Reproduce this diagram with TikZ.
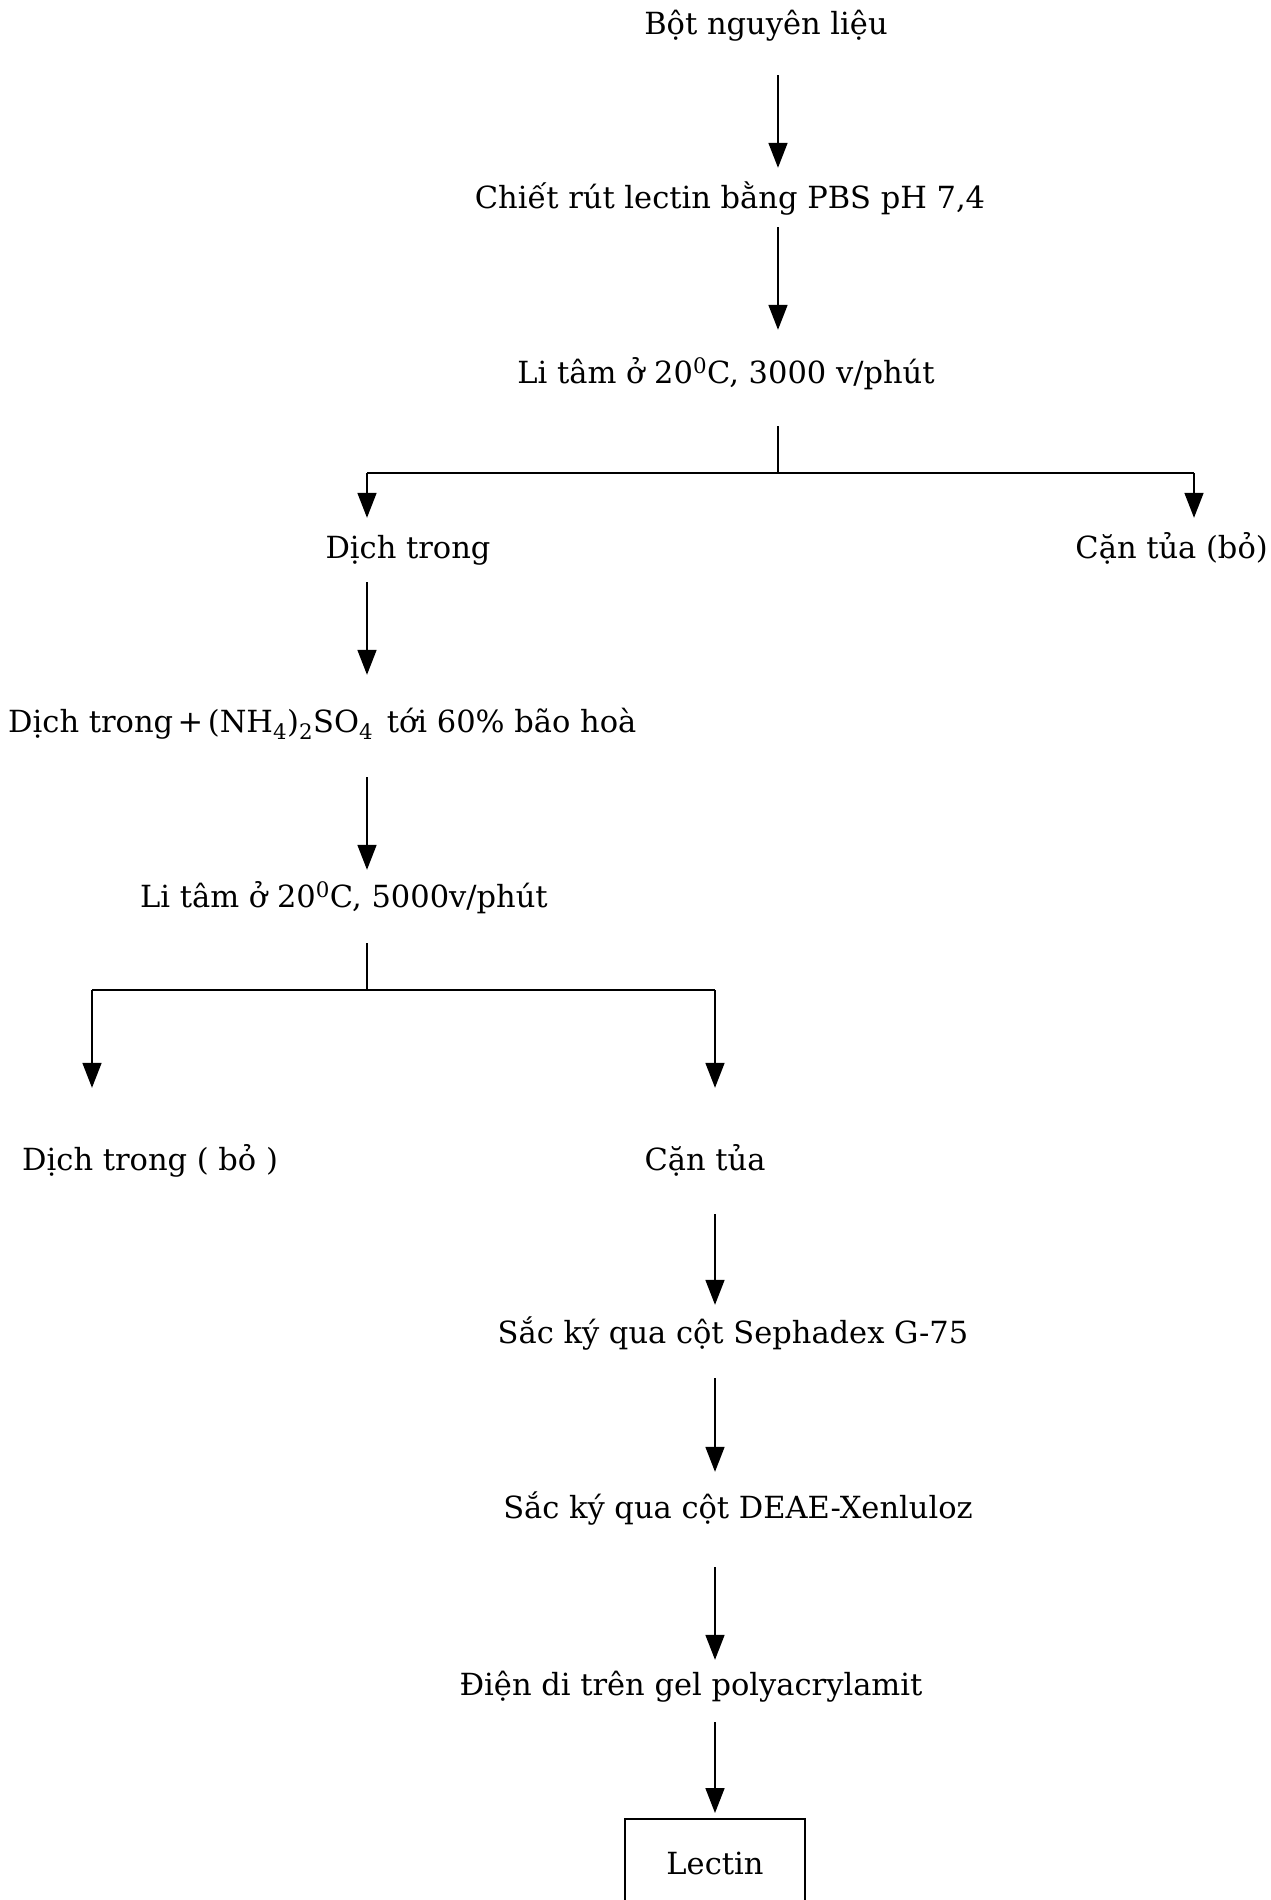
\documentclass[tikz,border=0pt]{standalone}
\usepackage{fontspec}
\setmainfont{DejaVu Serif}
\usetikzlibrary{arrows.meta}
\begin{document}
\begin{tikzpicture}[x=1pt,y=-1pt,
  txt/.style={inner sep=0pt, anchor=base, text height=26pt, text depth=8pt, font=\fontsize{30.5}{36}\selectfont},
  ln/.style={line width=1.7pt},
  bar/.style={line width=2.8pt},
  arr/.style={line width=1.7pt, -{Triangle[length=25pt,width=19pt]}},
  boxed/.style={draw, line width=1.7pt, inner sep=0pt, minimum width=180pt, minimum height=90pt, font=\fontsize{30.5}{36}\selectfont}]
\useasboundingbox (0,0) rectangle (1271,1900);
% columns and junctions
\coordinate (cA) at (778,0);
\coordinate (cB) at (367,0);
\coordinate (cC) at (715,0);
\coordinate (j1) at (778,473);
\coordinate (j1l) at (367,473);
\coordinate (j1r) at (1194,473);
\coordinate (j2) at (367,990);
\coordinate (j2l) at (92,990);
\coordinate (j2r) at (715,990);
% nodes
\node[txt] (bot) at (766,35) {Bột nguyên liệu};
\node[txt] (chiet) at (730,208) {Chiết rút lectin bằng PBS pH 7,4};
\node[txt] (li1) at (726,383) {Li tâm ở 20\textsuperscript{0}C, 3000 v/phút};
\node[txt] (dt1) at (408,558) {Dịch trong};
\node[txt, anchor=base east] (ct1) at (1268,558) {Cặn tủa (bỏ)};
\node[txt, anchor=base west] (dtn) at (8,732) {Dịch trong\hspace{0.15em}+\hspace{0.15em}(NH\textsubscript{4})\textsubscript{2}SO\textsubscript{4}\hspace{0.45em}tới 60\% bão hoà};
\node[txt] (li2) at (344,907) {Li tâm ở 20\textsuperscript{0}C, 5000v/phút};
\node[txt, anchor=base west] (dt2) at (22,1170) {Dịch trong ( bỏ )};
\node[txt] (ct2) at (705,1170) {Cặn tủa};
\node[txt] (g75) at (733,1343) {Sắc ký qua cột Sephadex G-75};
\node[txt] (deae) at (738,1518) {Sắc ký qua cột DEAE-Xenluloz};
\node[txt] (dien) at (691,1695) {Điện di trên gel polyacrylamit};
\node[boxed, anchor=north] (lectin) at (715,1818) {Lectin};
% connectors
\draw[arr, shorten <=32pt, shorten >=14pt] (bot.south -| cA) -- (chiet.north -| cA);
\draw[arr, shorten <=11pt, shorten >=27pt] (chiet.south -| cA) -- (li1.north -| cA);
\draw[ln, shorten <=35pt] (li1.south -| j1) -- (j1);
\draw[bar] (j1l) -- (j1r);
\draw[arr, shorten >=14pt] (j1l) -- (dt1.north -| j1l);
\draw[arr, shorten >=14pt] (j1r) -- (ct1.north -| j1r);
\draw[arr, shorten <=16pt, shorten >=31pt] (dt1.south -| cB) -- (dtn.north -| cB);
\draw[arr, shorten <=37pt, shorten >=11pt] (dtn.south -| cB) -- (li2.north -| cB);
\draw[ln, shorten <=28pt] (li2.south -| j2) -- (j2);
\draw[bar] (j2l) -- (j2r);
\draw[arr, shorten >=56pt] (j2l) -- (dt2.north -| j2l);
\draw[arr, shorten >=56pt] (j2r) -- (ct2.north -| j2r);
\draw[arr, shorten <=36pt, shorten >=12pt] (ct2.south -| cC) -- (g75.north -| cC);
\draw[arr, shorten <=27pt, shorten >=20pt] (g75.south -| cC) -- (deae.north -| cC);
\draw[arr, shorten <=41pt, shorten >=9pt] (deae.south -| cC) -- (dien.north -| cC);
\draw[arr, shorten <=19pt, shorten >=5pt] (dien.south -| cC) -- (lectin.north -| cC);
\end{tikzpicture}
\end{document}
